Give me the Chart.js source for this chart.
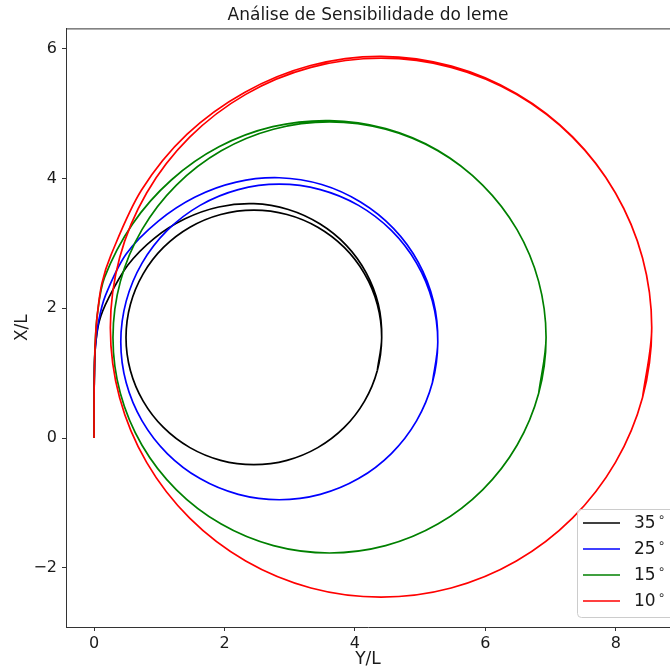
<!DOCTYPE html>
<html>
<head>
<meta charset="utf-8">
<script src="https://cdn.jsdelivr.net/npm/chart.js@4.4.1/dist/chart.umd.min.js"></script>
<style>
  body { margin: 0; background: #fff; }
  canvas { display: block; }
</style>
</head>
<body>
<canvas id="grafico" width="670" height="670"></canvas>
<script>
const titulo = "Análise de Sensibilidade do leme";
const rotulos = ["35°", "25°", "15°", "10°"];
const cores = ["#000000", "#0000ff", "#008000", "#ff0000"];

// leme 35 graus (Y/L na horizontal, X/L na vertical)
const yl35 = [0, 0, 0.005, 0.02, 0.08, 0.219, 0.519, 0.923, 1.395, 1.911, 2.45, 2.978, 3.46, 3.868, 4.173, 4.358, 4.41,
  4.343, 4.147, 3.836, 3.43, 2.958, 2.45, 1.942, 1.47, 1.064, 0.753, 0.557, 0.49, 0.557, 0.753, 1.064, 1.47,
  1.942, 2.45, 2.958, 3.43, 3.836, 4.147, 4.343, 4.41, 4.343];
const xl35 = [0, 0.5, 1.0, 1.4, 1.8, 2.148, 2.665, 3.077, 3.377, 3.559, 3.61, 3.52, 3.30, 2.968, 2.545, 2.061, 1.55,
  1.042, 0.57, 0.164, -0.147, -0.343, -0.41, -0.343, -0.147, 0.164, 0.57, 1.042, 1.55, 2.058, 2.53, 2.936, 3.247,
  3.443, 3.51, 3.443, 3.247, 2.936, 2.53, 2.058, 1.55, 1.042];

// leme 25 graus
const yl25 = [0, 0, 0.005, 0.02, 0.07, 0.174, 0.493, 0.981, 1.55, 2.18, 2.84, 3.49, 4.085, 4.59, 4.97, 5.202, 5.27,
  5.187, 4.944, 4.558, 4.055, 3.469, 2.84, 2.211, 1.625, 1.122, 0.736, 0.493, 0.41, 0.493, 0.736, 1.122, 1.625,
  2.211, 2.84, 3.469, 4.055, 4.558, 4.944, 5.187, 5.27, 5.187];
const xl25 = [0, 0.5, 1.0, 1.4, 1.8, 2.195, 2.835, 3.339, 3.714, 3.943, 4.01, 3.905, 3.636, 3.23, 2.71, 2.113, 1.48,
  0.851, 0.265, -0.238, -0.624, -0.867, -0.95, -0.867, -0.624, -0.238, 0.265, 0.851, 1.48, 2.109, 2.695, 3.198, 3.584,
  3.827, 3.91, 3.827, 3.584, 3.198, 2.695, 2.109, 1.48, 0.851];

// leme 15 graus
const yl15 = [0, 0, 0.005, 0.015, 0.05, 0.161, 0.588, 1.185, 1.915, 2.74, 3.61, 4.472, 5.273, 5.957, 6.485, 6.817, 6.93,
  6.817, 6.485, 5.957, 5.27, 4.47, 3.61, 2.75, 1.95, 1.263, 0.735, 0.403, 0.29, 0.403, 0.735, 1.263, 1.95,
  2.75, 3.61, 4.47, 5.27, 5.957, 6.485, 6.817, 6.93, 6.817];
const xl15 = [0, 0.5, 1.0, 1.4, 1.9, 2.475, 3.295, 3.975, 4.486, 4.796, 4.89, 4.767, 4.43, 3.897, 3.21, 2.41, 1.55,
  0.69, -0.11, -0.797, -1.325, -1.657, -1.77, -1.657, -1.325, -0.797, -0.11, 0.69, 1.55, 2.41, 3.21, 3.897, 4.425,
  4.757, 4.87, 4.757, 4.425, 3.897, 3.21, 2.41, 1.55, 0.69];

// leme 10 graus
const yl10 = [0, 0, 0.005, 0.02, 0.05, 0.12, 0.256, 0.728, 1.423, 2.307, 3.318, 4.40, 5.48, 6.48, 7.338, 7.994, 8.409, 8.55,
  8.409, 7.994, 7.334, 6.475, 5.475, 4.40, 3.325, 2.325, 1.466, 0.806, 0.391, 0.25, 0.391, 0.806, 1.466, 2.325,
  3.325, 4.40, 5.475, 6.475, 7.334, 7.994, 8.409, 8.55, 8.409];
const xl10 = [0, 0.5, 1.0, 1.5, 1.9, 2.38, 2.811, 3.82, 4.677, 5.324, 5.738, 5.88, 5.728, 5.303, 4.638, 3.775, 2.775, 1.70,
  0.625, -0.375, -1.234, -1.894, -2.309, -2.45, -2.309, -1.894, -1.234, -0.375, 0.625, 1.70, 2.775, 3.775, 4.634,
  5.294, 5.709, 5.85, 5.709, 5.294, 4.634, 3.775, 2.775, 1.70, 0.625];

const ticksY = [-2, 0, 2, 4, 6];
const ticksX = [0, 2, 4, 6, 8];

const fonte = "'DejaVu Sans', sans-serif";
const corEixo = "#333333";
const corTexto = "#1a1a1a";

const pontos = (ys, xs) => ys.map((v, i) => ({ x: v, y: xs[i] }));
const trajetorias = [[yl35, xl35], [yl25, xl25], [yl15, xl15], [yl10, xl10]];

// a ultima curva fica por cima, como no matplotlib
const datasets = trajetorias.map((t, i) => ({
    label: rotulos[i],
    data: pontos(t[0], t[1]),
    borderColor: cores[i],
    backgroundColor: cores[i],
    borderWidth: 1.7,
    pointRadius: 0,
    tension: 0.33,
    fill: false,
    order: trajetorias.length - i,
}));

const menos = (v) => String(v).replace("-", "\u2212");

// legenda dentro da area do grafico, no canto inferior direito
const legendaInterna = {
    id: "legendaInterna",
    afterDraw(chart) {
        const ctx = chart.ctx;
        const a = chart.chartArea;
        ctx.save();
        ctx.strokeStyle = corEixo;
        ctx.lineWidth = 1;
        ctx.beginPath();
        ctx.moveTo(a.left, a.top + 0.5);
        ctx.lineTo(a.right, a.top + 0.5);
        ctx.stroke();

        const x0 = a.left + 511;
        const y0 = a.bottom - 118;
        ctx.beginPath();
        ctx.roundRect(x0 + 0.5, y0 + 0.5, 120, 108, 4);
        ctx.fillStyle = "rgba(255,255,255,0.8)";
        ctx.fill();
        ctx.strokeStyle = "#cccccc";
        ctx.stroke();

        chart.data.datasets.forEach((ds, i) => {
            const yc = y0 + 14 + i * 26;
            ctx.strokeStyle = ds.borderColor;
            ctx.lineWidth = 1.7;
            ctx.beginPath();
            ctx.moveTo(x0 + 6, yc);
            ctx.lineTo(x0 + 43, yc);
            ctx.stroke();
            const num = ds.label.replace("°", "");
            ctx.fillStyle = corTexto;
            ctx.textBaseline = "middle";
            ctx.textAlign = "left";
            ctx.font = "17px " + fonte;
            ctx.fillText(num, x0 + 57, yc + 1);
            const w = ctx.measureText(num).width;
            ctx.font = "12px " + fonte;
            ctx.fillText("\u2218", x0 + 57 + w + 2, yc - 5);
        });
        ctx.restore();
    },
};

const grafico = new Chart(document.getElementById("grafico"), {
    type: "line",
    data: { datasets: datasets },
    plugins: [legendaInterna],
    options: {
        responsive: false,
        animation: false,
        layout: { padding: 0 },
        plugins: {
            legend: { display: false },
            tooltip: { enabled: false },
            title: {
                display: true,
                text: titulo,
                fullSize: false,
                color: corTexto,
                font: { family: fonte, size: 17, weight: "normal" },
                padding: { top: 5, bottom: 3 },
            },
        },
        scales: {
            x: {
                type: "linear",
                min: -0.43,
                max: 8.83,
                afterFit: (s) => { s.height = 43; },
                afterBuildTicks: (s) => { s.ticks = ticksX.map((v) => ({ value: v })); },
                ticks: { color: corTexto, font: { family: fonte, size: 16 }, padding: 3, callback: menos },
                grid: { drawOnChartArea: false, tickLength: 4, color: corEixo },
                border: { color: corEixo, width: 1 },
                title: { display: true, text: "Y/L", color: corTexto, font: { family: fonte, size: 17 }, padding: { top: 0, bottom: 0 } },
            },
            y: {
                type: "linear",
                min: -2.91,
                max: 6.31,
                afterFit: (s) => { s.width = 66; },
                afterBuildTicks: (s) => { s.ticks = ticksY.map((v) => ({ value: v })); },
                ticks: { color: corTexto, font: { family: fonte, size: 16 }, padding: 5, callback: menos },
                grid: { drawOnChartArea: false, tickLength: 4, color: corEixo },
                border: { color: corEixo, width: 1 },
                title: { display: true, text: "X/L", color: corTexto, font: { family: fonte, size: 17 }, padding: { top: 12, bottom: 0 } },
            },
        },
    },
});
</script>
</body>
</html>
